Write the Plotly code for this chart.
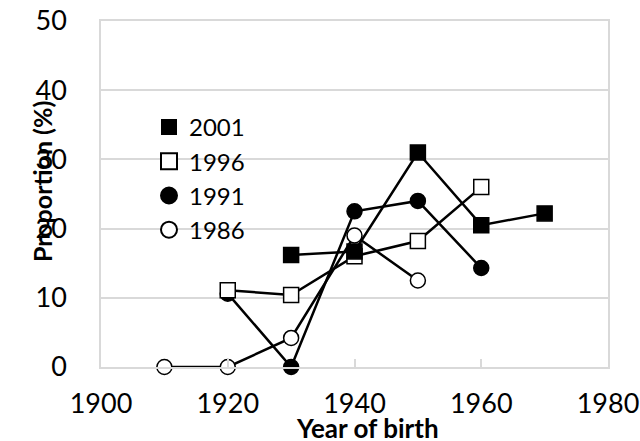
import plotly.graph_objects as go

series_names = ["2001", "1996", "1991", "1986"]
x_2001 = [1930, 1940, 1950, 1960, 1970]
y_2001 = [16.2, 16.7, 31.0, 20.5, 22.2]
x_1996 = [1920, 1930, 1940, 1950, 1960]
y_1996 = [11.1, 10.4, 16.0, 18.2, 26.0]
x_1991 = [1920, 1930, 1940, 1950, 1960]
y_1991 = [10.6, 0.0, 22.5, 24.0, 14.3]
x_1986 = [1910, 1920, 1930, 1940, 1950]
y_1986 = [0.0, 0.0, 4.2, 19.0, 12.5]
x_ticks = [1900, 1920, 1940, 1960, 1980]
y_ticks = [0, 10, 20, 30, 40, 50]

FONT = "Lato"
data = [
    (series_names[2], x_1991, y_1991, "circle", "black"),
    (series_names[3], x_1986, y_1986, "circle", "white"),
    (series_names[1], x_1996, y_1996, "square", "white"),
    (series_names[0], x_2001, y_2001, "square", "black"),
]

fig = go.Figure()
for name, xs, ys, sym, fill in data:
    fig.add_trace(go.Scatter(
        x=xs, y=ys, mode="lines+markers", showlegend=False, cliponaxis=False,
        line=dict(color="black", width=2.5),
        marker=dict(symbol=sym, size=15, color=fill, line=dict(color="black", width=1.5)),
    ))

legend_defs = [
    (series_names[0], "square", "black", 14),
    (series_names[1], "square", "white", 16),
    (series_names[2], "circle", "black", 16),
    (series_names[3], "circle", "white", 16),
]
for i, (name, sym, fill, sz) in enumerate(legend_defs):
    fig.add_trace(go.Scatter(
        x=[None], y=[None], mode="markers", name=name,
        marker=dict(symbol=sym, size=sz, color=fill, line=dict(color="black", width=2)),
    ))

W, H = 640, 441
L, R, T, B = 101, 32, 21, 74
pw, ph = W - L - R, H - T - B

def px_x(px):
    return (px - L) / pw

def px_y(py):
    return (H - B - py) / ph

fig.update_layout(
    width=W, height=H,
    margin=dict(l=L, r=R, t=T, b=B, autoexpand=False),
    paper_bgcolor="white", plot_bgcolor="white",
    font=dict(family=FONT, size=27, color="black"),
    showlegend=True,
    legend=dict(x=px_x(149), y=px_y(105), xanchor="left", yanchor="top",
                bgcolor="rgba(0,0,0,0)", font=dict(size=24), itemwidth=30),
    xaxis=dict(range=[1900, 1980], tickvals=x_ticks, ticktext=[str(v) for v in x_ticks],
               automargin=False, ticklabeloverflow="allow",
               showgrid=False, zeroline=False, showline=True, linecolor="#d9d9d9", linewidth=2,
               mirror=True,
               ticks="inside", ticklen=8, tickcolor="#d9d9d9", tickwidth=1.5,
               ticklabelstandoff=12),
    yaxis=dict(range=[0, 50], tickvals=y_ticks, ticktext=[str(v) for v in y_ticks],
               automargin=False, ticklabeloverflow="allow",
               showgrid=True, gridcolor="#d9d9d9", gridwidth=1.5, zeroline=False,
               showline=True, linecolor="#d9d9d9", linewidth=1.5, mirror=True,
               ticks="", ticklabelstandoff=27),
    annotations=[
        dict(text="<b>Proportion (%)</b>", x=px_x(25), y=px_y(182),
             xref="paper", yref="paper", textangle=-90, showarrow=False, font=dict(size=25)),
        dict(text="<b>Year of birth</b>", x=px_x(367), y=px_y(410), yanchor="top",
             xref="paper", yref="paper", showarrow=False, font=dict(size=26)),
    ],
)

fig.write_html(
    "out.html",
    config={"displayModeBar": False},
    post_script="document.body.style.margin='0';document.body.style.overflow='hidden';",
)
